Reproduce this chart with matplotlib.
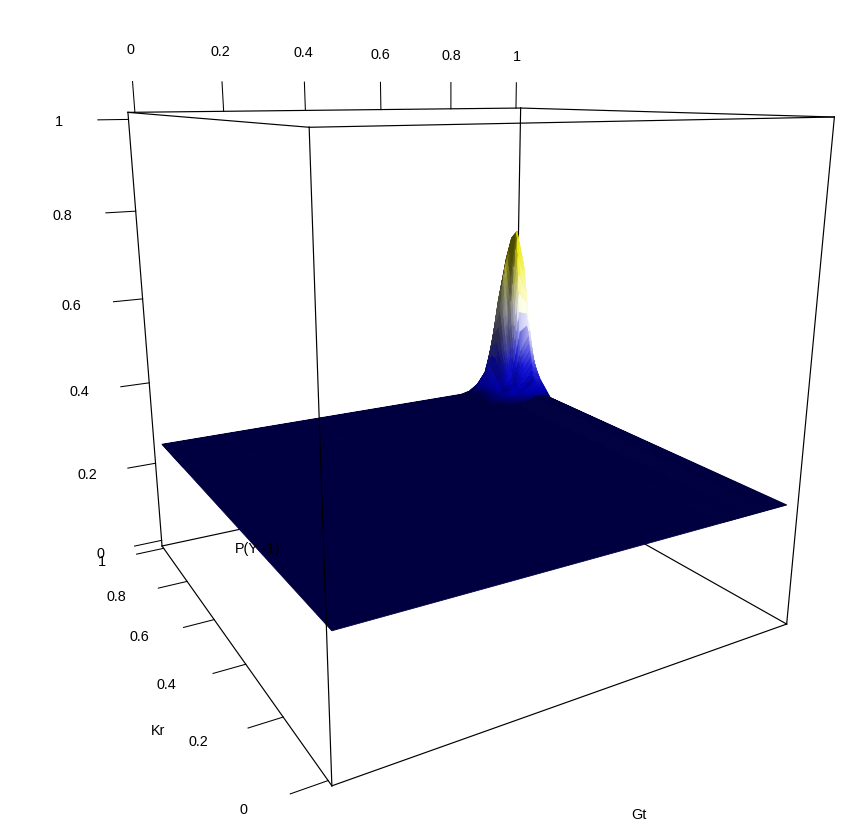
import numpy as np
import matplotlib
matplotlib.use('Agg')
import matplotlib.pyplot as plt
from matplotlib.colors import LinearSegmentedColormap
from mpl_toolkits.mplot3d import proj3d

plt.rcParams['font.family'] = ['Liberation Sans', 'DejaVu Sans']

# surface: flat everywhere except the spike near the back corner
gt_vals = [0, 0.825, 0.85, 0.875, 0.9, 0.925, 0.95, 0.975, 1.0]
kr_vals = [0, 0.825, 0.85, 0.875, 0.9, 0.925, 0.95, 0.975, 1.0]
p_vals = [
    [0.25, 0.25, 0.25, 0.25, 0.25, 0.25, 0.25, 0.25, 0.25],
    [0.25, 0.25, 0.25, 0.25, 0.25, 0.26, 0.27, 0.27, 0.26],
    [0.25, 0.25, 0.25, 0.26, 0.27, 0.28, 0.29, 0.29, 0.28],
    [0.25, 0.25, 0.26, 0.27, 0.28, 0.275, 0.28, 0.31, 0.30],
    [0.25, 0.25, 0.26, 0.27, 0.265, 0.29, 0.38, 0.42, 0.33],
    [0.25, 0.25, 0.255, 0.27, 0.29, 0.42, 0.70, 0.60, 0.38],
    [0.25, 0.25, 0.255, 0.28, 0.31, 0.58, 0.68, 0.62, 0.36],
    [0.25, 0.25, 0.26, 0.285, 0.33, 0.50, 0.62, 0.50, 0.32],
    [0.25, 0.25, 0.255, 0.27, 0.30, 0.38, 0.45, 0.38, 0.28],
]
tick_vals = [0, 0.2, 0.4, 0.6, 0.8, 1]
tick_labels = ['0', '0.2', '0.4', '0.6', '0.8', '1']

lo, hi = -0.015, 1.015
tick_len = 0.065

# smooth shading: split the spike cells so the colour can run across them
def split(vals, n=6):
    out = [vals[0]]
    for a, b in zip(vals[1:-1], vals[2:]):
        out.extend(np.linspace(a, b, n, endpoint=False))
    out.append(vals[-1])
    return np.array(out)

gt_fine = split(gt_vals)
kr_fine = split(kr_vals)
Z = np.array(p_vals)
Z1 = np.array([np.interp(gt_fine, gt_vals, row) for row in Z])
Zf = np.array([np.interp(kr_fine, kr_vals, col) for col in Z1.T]).T
X, Y = np.meshgrid(gt_fine, kr_fine)

ramp = LinearSegmentedColormap.from_list('ramp', [
    (0.0, '#000040'), (0.06, '#0000b0'), (0.17, '#1010d8'), (0.33, '#8080e0'),
    (0.48, '#ffffff'), (0.62, '#f8f8a0'), (0.8, '#f0ec10'), (1.0, '#e8e400'),
])
cols = ramp(np.clip((Zf - 0.25) / 0.45, 0, 1))

# lighting from the right of the viewer, weak on the foot and the top of the spike
dzdy, dzdx = np.gradient(Zf, kr_fine, gt_fine)
norm = np.sqrt(dzdx ** 2 + dzdy ** 2 + 1)
nx, ny, nz = -dzdx / norm, -dzdy / norm, 1 / norm
light = np.array([0.75, -0.6, 0.28])
light = light / np.linalg.norm(light)
d = nx * light[0] + ny * light[1] + nz * light[2] - light[2]
h = np.clip((Zf - 0.28) / 0.12, 0, 1)
top = np.clip((Zf - 0.58) / 0.1, 0, 1)
shade = np.clip(1 + 0.9 * d, 0.32, 1)
shade = (1 + (shade - 1) * (0.4 + 0.6 * h))[..., None]
glow = (np.clip(d * 0.7, 0, 0.8) * h * (1 - 0.8 * top))[..., None]
rgb = cols[..., :3] * shade
rgb = rgb + (1 - rgb) * glow
cols = np.dstack([rgb, np.ones(Zf.shape)])

fig = plt.figure(figsize=(8.61, 8.34), dpi=100)
w = 810.6
ax = fig.add_axes([33.55 / 861, 55.35 / 834, w / 861, w / 834], projection='3d')
ax.computed_zorder = False
ax.set_proj_type('persp', focal_length=0.2341)
ax.view_init(14.95, -119.95, 0)
ax.set_box_aspect((1, 1, 1))
ax.set_xlim(lo, hi)
ax.set_ylim(lo, hi)
ax.set_zlim(lo, hi)
ax.set_axis_off()

lk = dict(color='black', lw=0.85, clip_on=False)
# box edges hidden by the surface
ax.plot([lo, hi], [hi, hi], [lo, lo], zorder=1, **lk)
ax.plot([hi, hi], [lo, hi], [lo, lo], zorder=1, **lk)
ax.plot([hi, hi], [hi, hi], [lo, hi], zorder=1, **lk)

ax.plot_surface(X, Y, Zf, facecolors=cols, rstride=1, cstride=1, shade=False,
                linewidth=0.6, antialiased=True, zorder=2)

# rest of the box
ax.plot([lo, lo], [lo, lo], [lo, hi], zorder=3, **lk)
ax.plot([lo, lo], [hi, hi], [lo, hi], zorder=3, **lk)
ax.plot([hi, hi], [lo, lo], [lo, hi], zorder=3, **lk)
ax.plot([lo, hi], [lo, lo], [lo, lo], zorder=3, **lk)
ax.plot([lo, lo], [lo, hi], [lo, lo], zorder=3, **lk)
ax.plot([lo, hi], [lo, lo], [hi, hi], zorder=3, **lk)
ax.plot([lo, hi], [hi, hi], [hi, hi], zorder=3, **lk)
ax.plot([lo, lo], [lo, hi], [hi, hi], zorder=3, **lk)
ax.plot([hi, hi], [lo, hi], [hi, hi], zorder=3, **lk)


# tick labels: project the 3D spot, then write plain 2D text there
def label(x, y, z, s, ha='center'):
    u, v, _ = proj3d.proj_transform(x, y, z, ax.get_proj())
    ax.text2D(u, v, s, transform=ax.transData, ha=ha, va='center', fontsize=10.4,
              color='black', zorder=4, clip_on=False)


tk = dict(color='black', lw=0.75, zorder=3, clip_on=False)
for v, s in zip(tick_vals, tick_labels):
    # Gt along the top back edge
    ax.plot([v, v], [hi, hi], [hi, hi + tick_len], **tk)
    label(v, hi, hi + 0.13, s)
    # Kr along the bottom left edge
    ax.plot([lo, lo - tick_len], [v, v], [lo, lo], **tk)
    label(lo - 0.136, v, lo - 0.002, s, ha='right')
    # P(Y=1) up the left edge
    ax.plot([lo, lo - tick_len], [hi, hi], [v, v], **tk)
    label(lo - 0.136, hi, v - 0.003, s, ha='right')

fig.text(639 / 861, 1 - 815 / 834, 'Gt', ha='center', va='center', fontsize=10.4)
fig.text(158 / 861, 1 - 731 / 834, 'Kr', ha='center', va='center', fontsize=10.4)
fig.text(258 / 861, 1 - 549 / 834, 'P(Y=1)', ha='center', va='center', fontsize=10.4)

fig.savefig('out.png', dpi=100)
